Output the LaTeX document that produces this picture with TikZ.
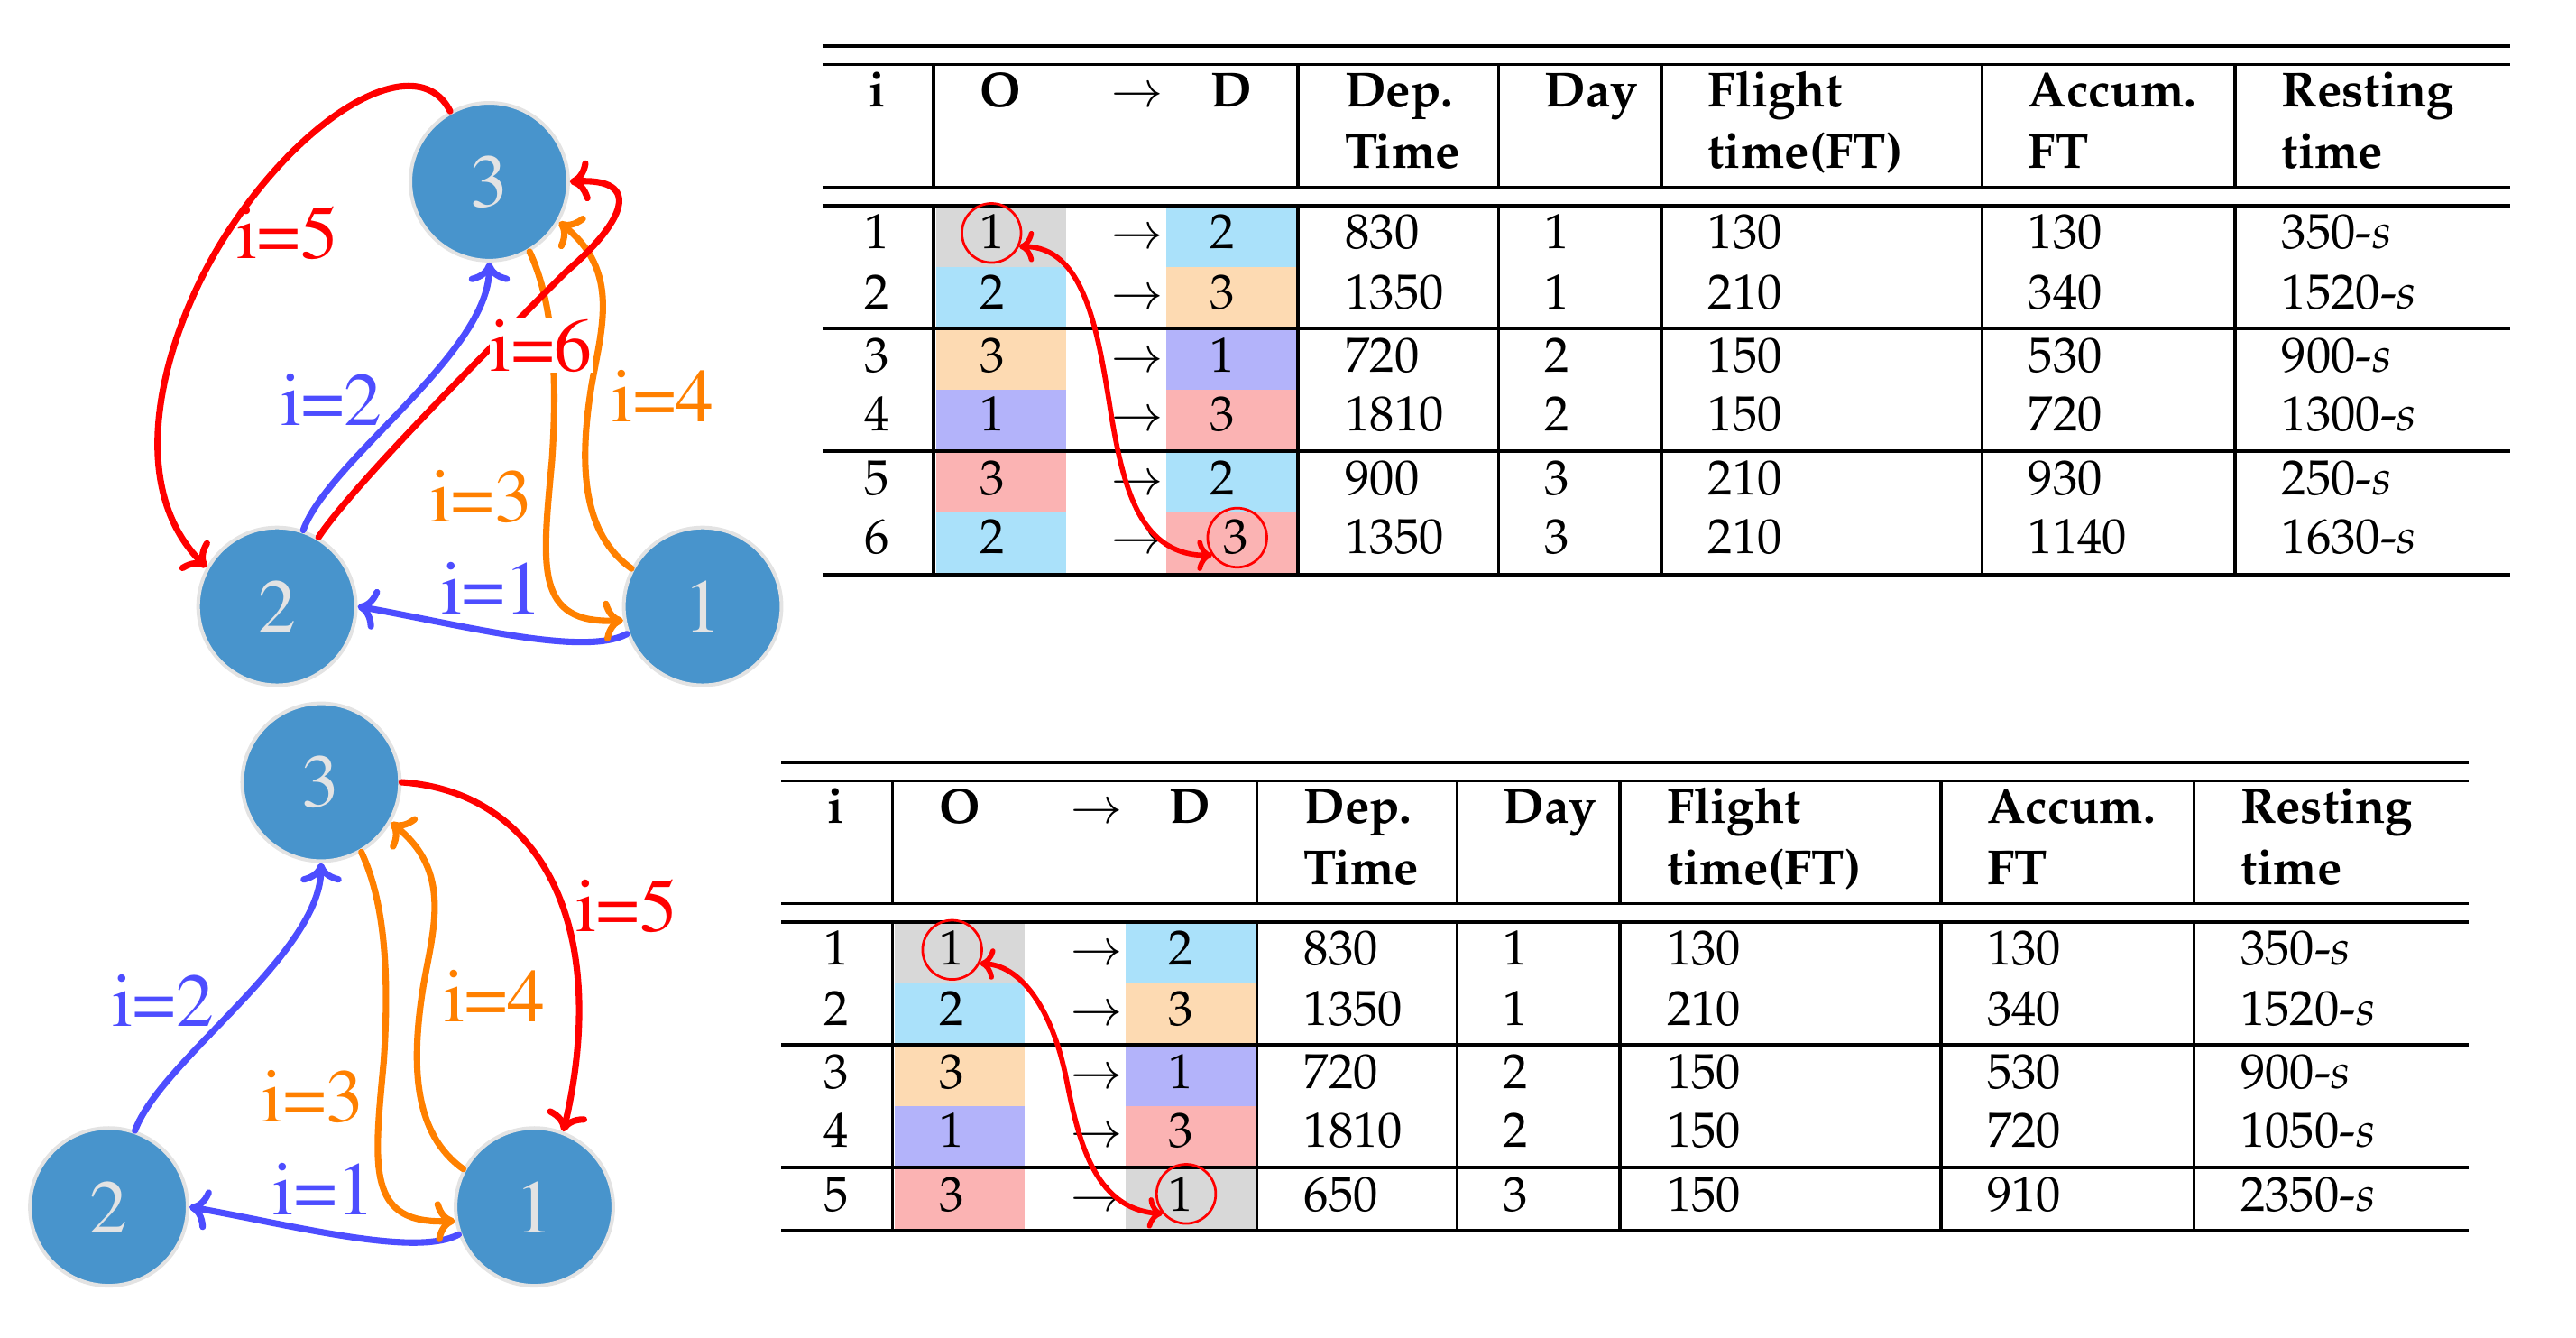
\documentclass[tikz,border=0pt]{standalone}
\usepackage[T1]{fontenc}
\usepackage{mathpazo}
\usetikzlibrary{arrows.meta}
\definecolor{nodeblue}{HTML}{4894CC}
\definecolor{nodeborder}{HTML}{E3E3E3}
\definecolor{edgeblue}{HTML}{4D4DFF}
\definecolor{edgeorange}{HTML}{FF8000}
\definecolor{edgered}{HTML}{FF0000}
\definecolor{cgray}{HTML}{D8D8D8}
\definecolor{cblue}{HTML}{AAE1FA}
\definecolor{cpeach}{HTML}{FDDAB2}
\definecolor{clav}{HTML}{B3B3FA}
\definecolor{cpink}{HTML}{FBB3B3}
\newcommand\graphfont{\fontfamily{ptm}\fontsize{46}{50}\selectfont}
\newcommand\tabfont{\fontsize{30}{36}\selectfont}
\tikzset{
  gnode/.style={circle, fill=nodeblue, draw=nodeborder, line width=2.2pt, minimum size=96pt, inner sep=0pt, text=nodeborder, font=\graphfont},
  glabel/.style={inner sep=0.5pt, font=\graphfont},
  gedge/.style={line width=3.9pt, line cap=round, -{To[length=12pt,width=25pt]}},
  tt/.style={inner sep=0pt, anchor=base, font=\tabfont},
  ttl/.style={inner sep=0pt, anchor=base west, font=\tabfont},
  tth/.style={inner sep=0pt, anchor=base, font=\tabfont\bfseries},
  tthl/.style={inner sep=0pt, anchor=base west, font=\tabfont\bfseries},
  tabrule/.style={line width=2pt},
  redring/.style={circle, draw=edgered, line width=1.5pt, minimum size=36pt, inner sep=0pt},
  tabarrow/.style={edgered, line width=3.1pt, line cap=round, {To[length=9pt,width=19pt]}-{To[length=9pt,width=19pt]}}
}
% graph part shared by both pictures
\newcommand\graphbase[1]{%
  \node[gnode] (#1n3) at (297.8,110.6) {3};
  \node[gnode] (#1n2) at (168.6,369) {2};
  \node[gnode] (#1n1) at (427.7,369) {1};
  \draw[gedge, edgeblue] (#1n1.200) .. controls (355,400) and (280,380) .. (#1n2.0);
  \draw[gedge, edgeblue] (#1n2.71) .. controls (200,280) and (298,215) .. (#1n3.-90);
  \draw[gedge, edgeorange] (#1n3.-60) .. controls (335,180) and (340,220) .. (336,280) .. controls (330,345) and (325,380) .. (#1n1.190);
  \draw[gedge, edgeorange] (#1n1.152) .. controls (355,325) and (352,285) .. (360,235) .. controls (366,200) and (378,165) .. (#1n3.-30);
  \node[glabel, text=edgeblue] (#1l1) at (299.5,358) {i=1};
  \node[glabel, text=edgeblue] (#1l2) at (201.7,243.5) {i=2};
  \node[glabel, text=edgeorange] (#1l3) at (293,302) {i=3};
  \node[glabel, text=edgeorange] (#1l4) at (403.5,241) {i=4};
}
% table: #1 prefix, #2 rows, #3 bottom y
\newcommand\flighttable[3]{%
  \foreach \r/\yb/\ya/\yc/\o/\oc/\d/\dc/\dx/\dep/\day/\ft/\acc/\rest in {#2} {
    \fill[\oc] (569.6,\ya) rectangle (648.8,\yc);
    \fill[\dc] (710,\ya) rectangle (790.2,\yc);
    \node[tt] (#1r\r-i) at (534,\yb) {\r};
    \node[tt] (#1r\r-o) at (604.2,\yb) {\o};
    \node[tt] (#1r\r-a) at (692.5,\yb) {$\rightarrow$};
    \node[tt] (#1r\r-d) at (\dx,\yb) {\d};
    \node[ttl] (#1r\r-p) at (818.6,\yb) {\dep};
    \node[ttl] (#1r\r-y) at (940.1,\yb) {\day};
    \node[ttl] (#1r\r-f) at (1039.5,\yb) {\ft};
    \node[ttl] (#1r\r-c) at (1234.5,\yb) {\acc};
    \node[ttl] (#1r\r-s) at (1388.7,\yb) {\rest-$s$};
  }
  \foreach \y in {28.1,39.3,114,125.2,199.8,274.6,#3}
    \draw[tabrule] (500.6,\y) -- (1527.7,\y);
  \foreach \x in {568.3,790.2,912.1,1011.2,1206.5,1360.6} {
    \draw[tabrule] (\x,39.3) -- (\x,114);
    \draw[tabrule] (\x,125.2) -- (\x,#3);
  }
  \node[tth] (#1hi) at (534,65.3) {i};
  \node[tth] (#1ho) at (609.2,65.3) {O};
  \node[tt] (#1ha) at (692.5,65.3) {$\rightarrow$};
  \node[tth] (#1hd) at (749.3,65.3) {D};
  \node[tthl] (#1hp1) at (818.6,65.3) {Dep.};
  \node[tthl] (#1hp2) at (818.6,102.3) {Time};
  \node[tthl] (#1hy) at (940.1,65.3) {Day};
  \node[tthl] (#1hf1) at (1039.5,65.3) {Flight};
  \node[tthl] (#1hf2) at (1039.5,102.3) {time(FT)};
  \node[tthl] (#1hc1) at (1234.5,65.3) {Accum.};
  \node[tthl] (#1hc2) at (1234.5,102.3) {FT};
  \node[tthl] (#1hs1) at (1388.7,65.3) {Resting};
  \node[tthl] (#1hs2) at (1388.7,102.3) {time};
}
\begin{document}
\begin{tikzpicture}[x=1pt,y=-1pt]
\useasboundingbox (0,0) rectangle (1568,814);
% ---------- top graph ----------
\graphbase{t}
\draw[gedge, edgered] (tn3.119) .. controls (255,30) and (190,65) .. (141.8,136.5) .. controls (105,190) and (70,290) .. (tn2.151);
\draw[gedge, edgered] (tn2.59) .. controls (215,295) and (300,210) .. (345,165) .. controls (380,135) and (392,108) .. (tn3.0);
\node[glabel, text=edgered] (tl5) at (175,142) {i=5};
\node[glabel, text=edgered, fill=white] (tl6) at (329.4,210.3) {i=6};
% ---------- bottom graph ----------
\begin{scope}[shift={(-102.4,365.4)}]
\graphbase{b}
\draw[gedge, edgered] (bn3.0) .. controls (432.4,116.6) and (474.4,199.6) .. (bn1.69);
\node[glabel, text=edgered] (bl5) at (483.8,186.1) {i=5};
\end{scope}
% ---------- top table ----------
\flighttable{T}{1/151.5/125.2/162.5/1/cgray/2/cblue/744/830/1/130/130/350,
  2/187.9/162.5/199.8/2/cblue/3/cpeach/744/1350/1/210/340/1520,
  3/226.5/199.8/237.2/3/cpeach/1/clav/744/720/2/150/530/900,
  4/262.3/237.2/274.6/1/clav/3/cpink/744/1810/2/150/720/1300,
  5/301.1/274.6/312.1/3/cpink/2/cblue/744/900/3/210/930/250,
  6/336.9/312.1/349.7/2/cblue/3/cpink/752/1350/3/210/1140/1630}{349.7}
\node[redring] (tc1) at (603.5,141.8) {};
\node[redring] (tc2) at (753.1,327.2) {};
\draw[tabarrow] (tc1.-26) .. controls (660,150) and (668,200) .. (676,250) .. controls (684,300) and (695,338) .. (tc2.215);
% ---------- bottom table ----------
\begin{scope}[shift={(-25.1,435.8)}]
\flighttable{B}{1/151.5/125.2/162.5/1/cgray/2/cblue/744/830/1/130/130/350,
  2/187.9/162.5/199.8/2/cblue/3/cpeach/744/1350/1/210/340/1520,
  3/226.5/199.8/237.2/3/cpeach/1/clav/744/720/2/150/530/900,
  4/262.3/237.2/274.6/1/clav/3/cpink/744/1810/2/150/720/1050,
  5/301.1/274.6/313/3/cpink/1/cgray/744/650/3/150/910/2350}{313}
\node[redring] (bc1) at (604.7,142.2) {};
\node[redring] (bc2) at (747.1,290.7) {};
\draw[tabarrow] (bc1.-26) .. controls (650,152) and (667,185) .. (674,220) .. controls (681,255) and (690,300) .. (bc2.220);
\end{scope}
\end{tikzpicture}
\end{document}
